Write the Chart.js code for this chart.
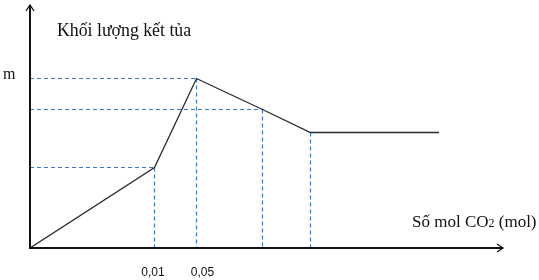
<!DOCTYPE html>
<html>
<head>
<meta charset="utf-8">
<script src="https://cdn.jsdelivr.net/npm/chart.js@4"></script>
<style>
html,body{margin:0;padding:0;background:#fff;}
canvas{display:block;}
</style>
</head>
<body>
<canvas id="c" width="539" height="280"></canvas>
<script>
// Data (schematic units)
const xMol = [0, 1.245, 1.665, 2.325, 2.805, 4.09];
const mass = [0, 0.805, 1.695, 1.385, 1.155, 1.155];
const hGuideIdx = [1, 2, 3];      // horizontal dashed guides to the y axis
const vGuideIdx = [1, 2, 3, 4];   // vertical dashed guides to the x axis
const tickLabels = ['0,01', '0,05'];
const tickPos = [1.23, 1.725];
const yLabel = 'Khối lượng kết tủa';
const xLabel = ['Số mol CO', '2', ' (mol)'];
const mLabel = 'm';
const xAxisEnd = 4.73;
const yAxisEnd = 2.43;

const guideColor = '#3d78cc';
const datasets = [];
datasets.push({
  data: xMol.map((x, i) => ({x, y: mass[i]})),
  borderColor: '#2a2a2a', borderWidth: 1.3, pointRadius: 0, tension: 0, order: 0
});
hGuideIdx.forEach(i => datasets.push({
  data: [{x: 0, y: mass[i]}, {x: xMol[i], y: mass[i]}],
  borderColor: guideColor, borderWidth: 1.2, borderDash: [4, 3], pointRadius: 0, order: 1
}));
vGuideIdx.forEach(i => datasets.push({
  data: [{x: xMol[i], y: mass[i]}, {x: xMol[i], y: 0}],
  borderColor: guideColor, borderWidth: 1.2, borderDash: [4, 3], pointRadius: 0, order: 1
}));

const decor = {
  id: 'decor',
  afterDraw(chart) {
    const ctx = chart.ctx, xs = chart.scales.x, ys = chart.scales.y;
    const x0 = xs.getPixelForValue(0), y0 = ys.getPixelForValue(0);
    const xe = xs.getPixelForValue(xAxisEnd), ye = ys.getPixelForValue(yAxisEnd);
    ctx.save();
    ctx.strokeStyle = '#111';
    ctx.lineWidth = 2;
    ctx.beginPath();
    ctx.moveTo(x0, y0); ctx.lineTo(xe, y0);
    ctx.moveTo(x0, y0 + 1); ctx.lineTo(x0, ye);
    ctx.stroke();
    ctx.lineWidth = 1.3;
    ctx.beginPath();
    ctx.moveTo(xe - 6, y0 - 4); ctx.lineTo(xe, y0); ctx.lineTo(xe - 6, y0 + 4);
    ctx.moveTo(x0 - 4, ye + 6); ctx.lineTo(x0, ye); ctx.lineTo(x0 + 4, ye + 6);
    ctx.stroke();

    ctx.fillStyle = '#111';
    ctx.textBaseline = 'alphabetic';
    ctx.textAlign = 'left';
    ctx.font = '17.8px "Liberation Serif"';
    ctx.fillText(yLabel, 57, 36);
    ctx.font = '16px "Liberation Serif"';
    ctx.fillText(mLabel, 3, 79);
    // x label with subscript
    let tx = 412;
    ctx.font = '17px "Liberation Serif"';
    ctx.fillText(xLabel[0], tx, 227);
    tx += ctx.measureText(xLabel[0]).width;
    ctx.font = '12px "Liberation Serif"';
    ctx.fillText(xLabel[1], tx, 227);
    tx += ctx.measureText(xLabel[1]).width;
    ctx.font = '17px "Liberation Serif"';
    ctx.fillText(xLabel[2], tx, 227);

    ctx.font = '12px "Liberation Sans"';
    ctx.textAlign = 'center';
    tickLabels.forEach((t, i) => ctx.fillText(t, xs.getPixelForValue(tickPos[i]), 276));
    ctx.restore();
  }
};

new Chart(document.getElementById('c'), {
  type: 'scatter',
  data: {datasets: datasets.map(d => Object.assign({showLine: true, fill: false}, d))},
  options: {
    responsive: false,
    animation: false,
    layout: {padding: {left: 30, right: 0, top: 0, bottom: 32}},
    plugins: {legend: {display: false}, tooltip: {enabled: false}},
    scales: {
      x: {type: 'linear', min: 0, max: 5.09, display: false},
      y: {type: 'linear', min: 0, max: 2.48, display: false}
    }
  },
  plugins: [decor]
});
</script>
</body>
</html>
